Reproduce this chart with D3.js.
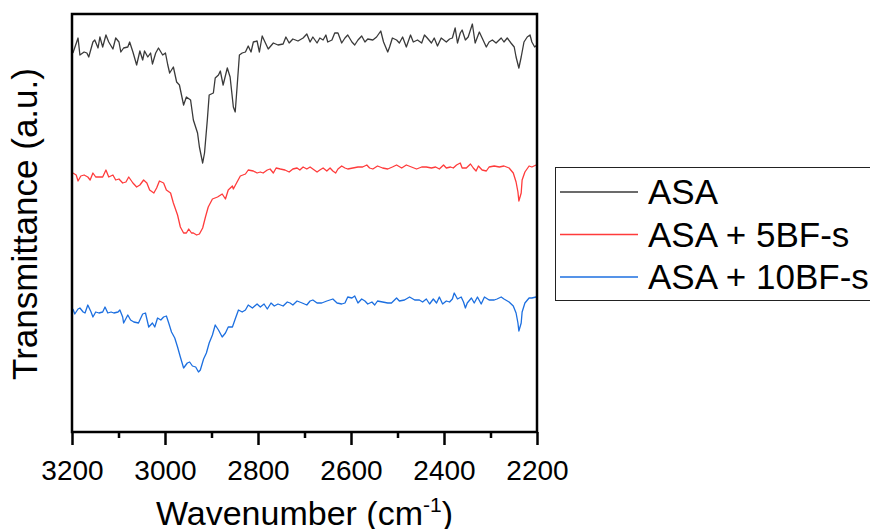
<!DOCTYPE html>
<html>
<head>
<meta charset="utf-8">
<script src="https://cdn.jsdelivr.net/npm/d3@7"></script>
<style>
  body { margin: 0; background: #fff; overflow: hidden; }
  text { font-family: "Liberation Sans", Arial, sans-serif; }
</style>
</head>
<body>
<div id="main"></div>
<script>
const ctx = {
    w: 870,
    h: 529,
    left: 72,
    right: 537,
    top: 14,
    bottom: 432,
};

// wavenumbers (cm-1) and transmittance (a.u., curves offset)
const asaWn = [3198,3187,3183,3174,3168,3164,3155,3151,3144,3140,3134,3127,3121,3112,3106,3099,3095,3089,3080,3076,
    3069,3061,3054,3048,3044,3037,3031,3027,3020,3014,3005,2999,2994,2990,2982,2975,2969,2960,2954,2945,
    2939,2930,2926,2919,2915,2909,2905,2896,2892,2885,2881,2875,2866,2860,2853,2849,2845,2840,2834,2827,
    2821,2815,2810,2802,2797,2791,2785,2778,2767,2757,2746,2740,2733,2725,2714,2703,2695,2688,2682,2673,
    2667,2660,2654,2650,2641,2635,2628,2620,2613,2607,2598,2592,2585,2577,2570,2564,2553,2545,2536,2530,
    2521,2517,2511,2502,2496,2489,2481,2472,2466,2457,2448,2442,2436,2427,2421,2414,2406,2395,2388,2382,
    2376,2371,2365,2361,2354,2348,2339,2333,2324,2318,2309,2303,2296,2288,2277,2271,2264,2256,2249,2245,
    2239,2234,2228,2221,2215,2211,2205,2200];
const asaT = [379,394,377,380,379,375,390,392,384,395,385,397,390,383,394,390,380,384,385,390,
    380,367,381,372,381,375,379,368,379,384,377,379,367,359,365,350,347,327,335,332,
    312,299,285,269,279,312,337,339,354,357,361,347,364,355,325,320,345,377,379,380,
    386,380,390,391,380,396,390,383,389,387,388,395,389,393,391,394,398,390,395,389,
    394,392,397,390,392,399,399,389,394,397,390,387,392,396,390,393,392,395,401,390,
    380,385,394,392,389,395,385,397,390,392,389,397,394,389,394,386,394,390,393,394,
    404,389,399,402,392,395,408,389,400,394,385,390,392,389,394,390,394,389,385,375,
    364,375,390,395,397,390,385,387];

const bf5Wn = [3198,3191,3187,3181,3174,3166,3161,3155,3149,3142,3134,3127,3121,3112,3106,3099,3091,3084,3078,3069,
    3061,3054,3046,3039,3033,3024,3018,3012,3003,2997,2988,2982,2973,2967,2960,2954,2949,2943,2939,2932,
    2926,2919,2913,2907,2898,2887,2877,2870,2864,2855,2853,2845,2838,2827,2821,2810,2802,2795,2789,2780,
    2774,2767,2761,2752,2742,2733,2725,2716,2710,2703,2695,2688,2682,2673,2667,2660,2652,2645,2639,2633,
    2628,2620,2613,2607,2596,2585,2575,2566,2560,2553,2543,2532,2521,2511,2502,2491,2481,2470,2459,2448,
    2438,2427,2418,2410,2401,2395,2386,2380,2373,2365,2361,2352,2343,2337,2331,2326,2318,2309,2303,2292,
    2281,2271,2260,2251,2245,2241,2239,2234,2232,2226,2217,2211,2202];
const bf5T = [259,257,251,256,257,255,252,259,255,255,255,262,255,257,252,253,249,250,255,249,
    245,247,252,249,242,239,244,251,249,242,239,229,217,205,199,199,203,199,199,197,
    198,204,215,225,233,235,238,233,242,246,243,250,256,258,262,261,259,260,259,262,
    263,259,264,263,262,260,263,264,262,265,263,265,263,260,262,264,261,264,261,259,
    263,266,264,263,264,265,265,267,264,263,266,264,263,265,267,264,267,265,263,265,
    265,264,265,263,267,264,265,264,267,269,264,264,268,264,261,266,262,261,265,266,
    265,266,264,259,250,240,231,239,252,260,266,265,267];

const bf10Wn = [3198,3194,3187,3183,3176,3172,3166,3159,3155,3149,3142,3134,3129,3123,3116,3110,3101,3097,3091,3089,
    3080,3074,3067,3057,3048,3042,3035,3027,3022,3016,3009,3003,2997,2992,2986,2979,2973,2967,2960,2952,
    2947,2941,2934,2928,2924,2917,2911,2905,2898,2892,2885,2877,2870,2864,2855,2849,2842,2834,2827,2821,
    2812,2802,2795,2787,2780,2772,2765,2757,2746,2737,2731,2725,2716,2705,2695,2688,2682,2673,2663,2652,
    2639,2630,2620,2613,2607,2598,2592,2585,2577,2570,2564,2555,2549,2543,2532,2521,2513,2502,2496,2485,
    2474,2463,2453,2446,2438,2431,2423,2416,2410,2403,2395,2388,2382,2378,2371,2363,2358,2354,2350,2341,
    2335,2328,2320,2313,2303,2292,2286,2277,2271,2260,2251,2245,2241,2239,2234,2232,2226,2217,2211,2202];
const bf10T = [123,118,123,124,120,119,127,120,115,120,119,120,125,119,120,119,120,122,115,109,
    117,112,110,109,118,119,105,109,105,114,112,115,116,109,100,94,85,75,64,69,
    70,66,65,60,62,73,79,89,97,107,102,95,99,105,105,113,122,120,122,127,
    124,128,125,128,123,129,126,128,126,130,129,127,131,129,127,131,132,129,129,131,
    133,129,128,129,135,134,136,129,133,131,128,130,127,131,130,129,129,134,131,132,
    135,132,132,130,133,128,133,129,135,128,131,130,133,139,133,135,130,124,129,134,
    129,135,128,135,132,132,133,135,133,130,126,119,109,101,109,120,129,134,134,135];

const seriesNames = ["ASA", "ASA + 5BF-s", "ASA + 10BF-s"];
const seriesColors = ["#3a3a3a", "#ff3b3b", "#1c6fe0"];
const majorTicks = [3200, 3000, 2800, 2600, 2400, 2200];
const minorTicks = [3100, 2900, 2700, 2500, 2300];

function createViz(){
    let svgEl = d3.select("#main").append("svg")
        .attr("width", ctx.w)
        .attr("height", ctx.h);

    let x = d3.scaleLinear().domain([3200, 2200]).range([ctx.left, ctx.right]);
    let y = d3.scaleLinear().domain([0, 418]).range([ctx.bottom, ctx.top]);

    svgEl.append("clipPath").attr("id", "plotClip")
        .append("rect")
        .attr("x", ctx.left).attr("y", ctx.top)
        .attr("width", ctx.right - ctx.left).attr("height", ctx.bottom - ctx.top);

    let series = [
        d3.zip(asaWn, asaT),
        d3.zip(bf5Wn, bf5T),
        d3.zip(bf10Wn, bf10T),
    ];

    let line = d3.line()
        .x(d => x(d[0]))
        .y(d => y(d[1]));

    svgEl.append("g")
        .attr("clip-path", "url(#plotClip)")
        .selectAll("path.spectrum")
        .data(series)
        .enter()
        .append("path")
        .attr("class", "spectrum")
        .attr("d", line)
        .style("fill", "none")
        .style("stroke", (d, i) => seriesColors[i])
        .style("stroke-width", 1.3)
        .style("stroke-linejoin", "round");

    // x axis, major and minor ticks
    let xAxis = svgEl.append("g")
        .attr("transform", `translate(0,${ctx.bottom})`)
        .call(d3.axisBottom(x).tickValues(majorTicks).tickSize(13).tickPadding(15).tickFormat(d3.format("d")));
    xAxis.select(".domain").remove();
    xAxis.selectAll(".tick line").style("stroke", "#000").style("stroke-width", 2.5);
    xAxis.selectAll(".tick text")
        .style("font-size", "28px")
        .style("fill", "#000");

    let xMinor = svgEl.append("g")
        .attr("transform", `translate(0,${ctx.bottom})`)
        .call(d3.axisBottom(x).tickValues(minorTicks).tickSize(6).tickFormat(""));
    xMinor.select(".domain").remove();
    xMinor.selectAll(".tick line").style("stroke", "#000").style("stroke-width", 2.5);

    // plot frame
    svgEl.append("rect")
        .attr("x", ctx.left)
        .attr("y", ctx.top)
        .attr("width", ctx.right - ctx.left)
        .attr("height", ctx.bottom - ctx.top)
        .style("fill", "none")
        .style("stroke", "#000")
        .style("stroke-width", 2.5);

    // axis titles
    let xTitle = svgEl.append("text")
        .attr("x", (ctx.left + ctx.right) / 2)
        .attr("y", 525)
        .attr("text-anchor", "middle")
        .style("font-size", "34px")
        .style("fill", "#000");
    xTitle.append("tspan").text("Wavenumber (cm");
    xTitle.append("tspan").attr("dy", -13).style("font-size", "21px").text("-1");
    xTitle.append("tspan").attr("dy", 13).text(")");

    svgEl.append("text")
        .attr("transform", "translate(37,224) rotate(-90)")
        .attr("text-anchor", "middle")
        .style("font-size", "35px")
        .style("fill", "#000")
        .text("Transmittance (a.u.)");

    // legend
    let legend = svgEl.append("g").attr("id", "legend");
    legend.append("rect")
        .attr("x", 555.5)
        .attr("y", 167.5)
        .attr("width", 340)
        .attr("height", 133)
        .style("fill", "#fff")
        .style("stroke", "#222")
        .style("stroke-width", 1);
    let items = legend.selectAll("g.item")
        .data(seriesNames)
        .enter()
        .append("g")
        .attr("class", "item")
        .attr("transform", (d, i) => `translate(0,${192 + i * 42.5})`);
    items.append("line")
        .attr("x1", 560).attr("x2", 638)
        .attr("y1", 0).attr("y2", 0)
        .style("stroke", (d, i) => seriesColors[i])
        .style("stroke-width", 1.3);
    items.append("text")
        .attr("x", 648)
        .attr("y", 12)
        .style("font-size", "35px")
        .style("fill", "#000")
        .text(d => d);
}

createViz();
</script>
</body>
</html>
